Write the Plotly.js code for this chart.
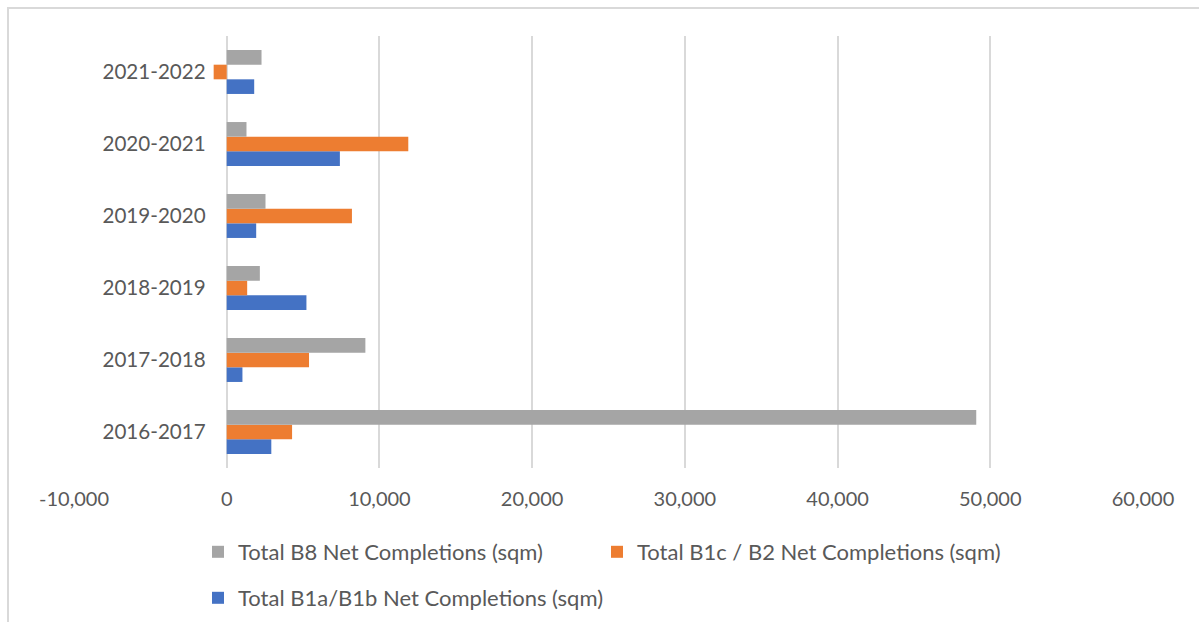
<!DOCTYPE html>
<html>
<head>
<meta charset="utf-8">
<script src="https://cdn.plot.ly/plotly-3.0.1.min.js"></script>
<style>
  html, body { margin: 0; padding: 0; background: #ffffff; }
  #wrap { position: relative; width: 1199px; height: 622px; }
  #chart { width: 1199px; height: 622px; }
  #frame {
    position: absolute; left: 7px; top: 7px; right: 0; bottom: 0;
    border-top: 2px solid #d9d9d9; border-left: 2px solid #d9d9d9;
    pointer-events: none;
  }
</style>
</head>
<body>
<div id="wrap">
  <div id="chart"></div>
  <div id="frame"></div>
</div>
<script>
// Financial years, bottom to top
const years = ['2016-2017', '2017-2018', '2018-2019', '2019-2020', '2020-2021', '2021-2022'];

// Net completions by use class (sqm)
const b1ab = [2920, 1030, 5220, 1930, 7410, 1800];
const b1cB2 = [4280, 5390, 1340, 8200, 11890, -855];
const b8 = [49080, 9080, 2170, 2540, 1295, 2280];

const seriesNames = [
  'Total B1a/B1b Net Completions (sqm)',
  'Total B1c / B2 Net Completions (sqm)',
  'Total B8 Net Completions (sqm)'
];
const seriesColors = ['#4472C4', '#ED7D31', '#A5A5A5'];

const xTicks = [-10000, 0, 10000, 20000, 30000, 40000, 50000, 60000];
// thousands separator with a plain hyphen for negatives
const xTickText = xTicks.map(v => v.toLocaleString('en-US'));

const FONT = 'Lato, "Open Sans", sans-serif';
const TEXT = '#595959';
const W = 1199, H = 622;

const traces = [
  { x: b1ab, legend: 'legend3' },
  { x: b1cB2, legend: 'legend2' },
  { x: b8, legend: 'legend' }
].map((t, i) => ({
  type: 'bar',
  orientation: 'h',
  y: years,
  x: t.x,
  name: seriesNames[i],
  legend: t.legend,
  marker: { color: seriesColors[i] },
  hoverinfo: 'x+name'
}));

// one legend box per entry, placed in figure (container) coordinates
const legendBox = (xPx, yPx) => ({
  orientation: 'h',
  xref: 'container', yref: 'container',
  x: xPx / W, xanchor: 'left',
  y: 1 - yPx / H, yanchor: 'middle',
  itemwidth: 30,
  font: { family: FONT, color: TEXT, size: 22 },
  bgcolor: 'rgba(0,0,0,0)'
});

const layout = {
  width: W,
  height: H,
  margin: { l: 74, r: 56, t: 36, b: 154, autoexpand: false },
  paper_bgcolor: '#ffffff',
  plot_bgcolor: '#ffffff',
  font: { family: FONT, color: TEXT, size: 20 },
  barmode: 'group',
  bargap: 0.39,
  bargroupgap: 0,
  xaxis: {
    range: [-10000, 60000],
    tickmode: 'array',
    tickvals: xTicks,
    ticktext: xTickText,
    showgrid: true,
    gridcolor: '#d9d9d9',
    gridwidth: 2,
    zeroline: true,
    zerolinecolor: '#d9d9d9',
    zerolinewidth: 2,
    showline: false,
    ticks: '',
    ticklabelstandoff: 17,
    tickfont: { family: FONT, color: TEXT, size: 20 },
    fixedrange: true
  },
  yaxis: {
    type: 'category',
    categoryorder: 'array',
    categoryarray: years,
    anchor: 'free',
    position: (0 - (-10000)) / 70000,
    showgrid: false,
    showline: false,
    zeroline: false,
    ticks: '',
    ticklabelstandoff: 21,
    tickfont: { family: FONT, color: TEXT, size: 20.6 },
    fixedrange: true
  },
  showlegend: true,
  legend: legendBox(198, 552),
  legend2: legendBox(597, 552),
  legend3: legendBox(198, 598)
};

Plotly.newPlot('chart', traces, layout, { displayModeBar: false, staticPlot: true });
</script>
</body>
</html>
